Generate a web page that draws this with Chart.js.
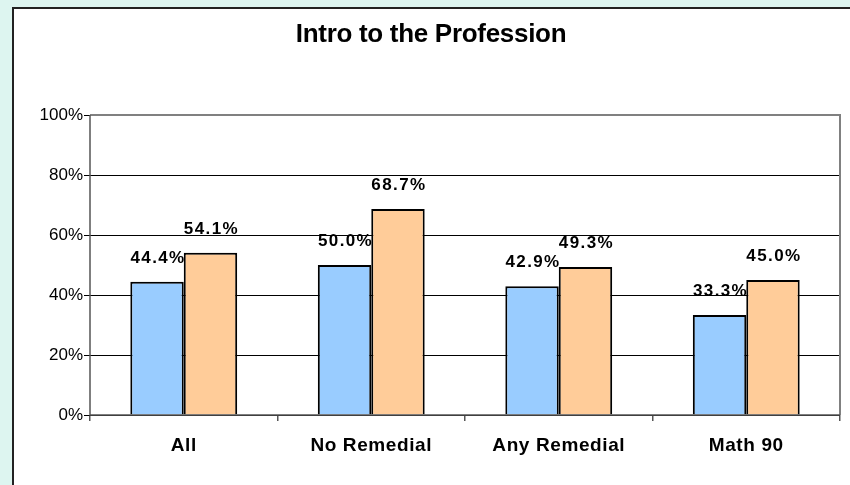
<!DOCTYPE html>
<html><head><meta charset="utf-8">
<script src="https://cdn.jsdelivr.net/npm/chart.js@4/dist/chart.umd.min.js"></script>
<style>html,body{margin:0;padding:0;background:#DDF5F0;}#wrap{width:850px;height:485px;position:relative;}</style>
</head><body><div id="wrap"><canvas id="c" width="850" height="485"></canvas></div>
<script>
const categories = ["All", "No Remedial", "Any Remedial", "Math 90"];
const seriesA = [44.4, 50.0, 42.9, 33.3];
const seriesB = [54.1, 68.7, 49.3, 45.0];
const yTicks = [0, 20, 40, 60, 80, 100];
const titleText = "Intro to the Profession";

const FONT = 'Arial, "Liberation Sans", sans-serif';

const bgPlugin = {
  id: 'bg',
  beforeDraw(chart) {
    const ctx = chart.ctx;
    ctx.save();
    ctx.fillStyle = '#DDF5F0';
    ctx.fillRect(0, 0, chart.width, chart.height);
    ctx.fillStyle = '#FFFFFF';
    ctx.fillRect(13, 8, chart.width, chart.height);
    ctx.strokeStyle = '#222';
    ctx.lineWidth = 2;
    ctx.beginPath();
    ctx.moveTo(13, chart.height + 5);
    ctx.lineTo(13, 8);
    ctx.lineTo(chart.width + 5, 8);
    ctx.stroke();
    ctx.font = 'bold 26px ' + FONT;
    ctx.fillStyle = '#000';
    ctx.textAlign = 'center';
    ctx.textBaseline = 'alphabetic';
    ctx.letterSpacing = '-0.3px';
    ctx.fillText(titleText, 431, 42);
    ctx.restore();
  },
  afterDatasetsDraw(chart) {
    const ctx = chart.ctx;
    const a = chart.chartArea;
    ctx.save();
    ctx.strokeStyle = '#808080';
    ctx.lineWidth = 2;
    ctx.beginPath();
    ctx.moveTo(a.left, a.top);
    ctx.lineTo(a.right, a.top);
    ctx.lineTo(a.right, a.bottom);
    ctx.stroke();
    ctx.strokeStyle = '#555';
    ctx.lineWidth = 1.5;
    ctx.beginPath();
    ctx.moveTo(a.left, a.top);
    ctx.lineTo(a.left, a.bottom);
    ctx.lineTo(a.right, a.bottom);
    ctx.stroke();
    // value labels
    ctx.font = 'bold 17px ' + FONT;
    ctx.letterSpacing = '1.4px';
    ctx.fillStyle = '#000';
    ctx.textAlign = 'center';
    ctx.textBaseline = 'alphabetic';
    chart.data.datasets.forEach((ds, di) => {
      const meta = chart.getDatasetMeta(di);
      meta.data.forEach((bar, i) => {
        ctx.fillText(ds.data[i].toFixed(1) + '%', bar.x + 1, bar.y - 19);
      });
    });
    // category labels (letter-spaced)
    const xs = chart.scales.x;
    ctx.font = 'bold 19px ' + FONT;
    ctx.letterSpacing = '0.6px';
    chart.data.labels.forEach((lab, i) => {
      ctx.fillText(lab, xs.getPixelForValue(i), a.bottom + 36);
    });
    ctx.restore();
  }
};

new Chart(document.getElementById('c'), {
  type: 'bar',
  data: {
    labels: categories,
    datasets: [
      { data: seriesA, backgroundColor: '#99CCFF', borderColor: '#000', borderWidth: 2, categoryPercentage: 0.57, barPercentage: 1.0 },
      { data: seriesB, backgroundColor: '#FFCC99', borderColor: '#000', borderWidth: 2, categoryPercentage: 0.57, barPercentage: 1.0 }
    ]
  },
  options: {
    responsive: false,
    animation: false,
    devicePixelRatio: 1,
    layout: { padding: { top: 115, right: 10, left: 0, bottom: 0 } },
    plugins: { legend: { display: false }, tooltip: { enabled: false }, title: { display: false } },
    scales: {
      x: {
        afterFit(s) { s.height = 70; },
        grid: { display: true, drawOnChartArea: false, color: '#555', tickLength: 6, lineWidth: 1.5 },
        border: { display: false },
        ticks: { display: false }
      },
      y: {
        min: 0, max: 100,
        afterFit(s) { s.width = 90; },
        afterBuildTicks(s) { s.ticks = yTicks.map(v => ({ value: v })); },
        grid: { color: '#000', lineWidth: 1, tickLength: 6 },
        border: { display: false },
        ticks: { color: '#000', padding: 1, font: { family: FONT, size: 17 }, callback: v => v + '%' }
      }
    }
  },
  plugins: [bgPlugin]
});
</script></body></html>
